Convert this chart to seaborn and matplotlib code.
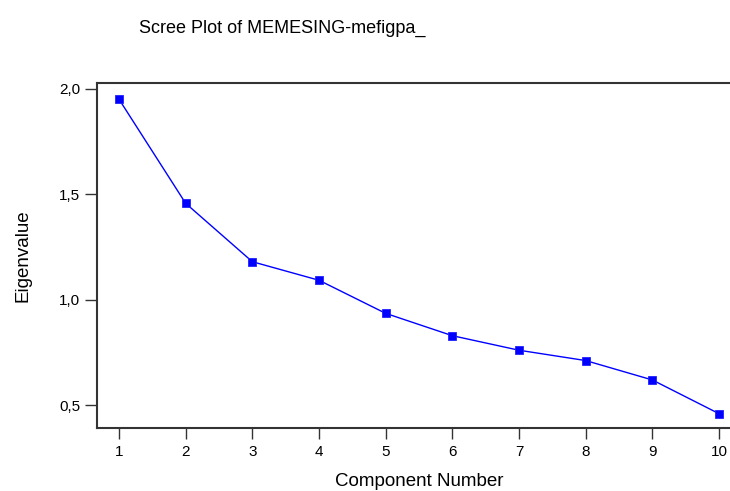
import matplotlib
matplotlib.use("Agg")
import matplotlib.pyplot as plt
import seaborn as sns
import pandas as pd

# datos
componentes = [1, 2, 3, 4, 5, 6, 7, 8, 9, 10]
eigenvalues = [1.951, 1.457, 1.180, 1.092, 0.935, 0.829, 0.760, 0.711, 0.619, 0.459]
y_ticks = [0.5, 1.0, 1.5, 2.0]
y_labels = ["0,5", "1,0", "1,5", "2,0"]

df = pd.DataFrame({"Component": componentes, "Eigenvalue": eigenvalues})

sns.set_style("white")
plt.rcParams["font.family"] = ["Liberation Sans", "DejaVu Sans"]
plt.rcParams["text.color"] = "black"
plt.rcParams["axes.labelcolor"] = "black"

fig = plt.figure(figsize=(7.3, 4.91), dpi=100)
ax = fig.add_axes([97 / 730, 1 - 428 / 491, 644 / 730, 345 / 491])

sns.lineplot(data=df, x="Component", y="Eigenvalue", ax=ax, color="#0000ff",
             linewidth=1.0, marker="s", markersize=5.5, markeredgewidth=0.6,
             markeredgecolor="#2020ff")

ax.set_xlim(0.67, 10.33)
ax.set_ylim(0.391, 2.028)
ax.set_xticks(componentes)
ax.set_xticklabels([str(c) for c in componentes], fontsize=11)
ax.set_yticks(y_ticks)
ax.set_yticklabels(y_labels, fontsize=11)
ax.tick_params(axis="x", bottom=True, direction="out", length=8, width=1.0,
               color="#333333", labelcolor="black", pad=4)
ax.tick_params(axis="y", left=True, direction="out", length=9, width=1.0,
               color="#333333", labelcolor="black", pad=3)
for s in ax.spines.values():
    s.set_linewidth(1.5)
    s.set_color("#333333")

ax.set_xlabel("Component Number", fontsize=13.5, labelpad=10)
ax.set_ylabel("Eigenvalue", fontsize=13.5, labelpad=20)
fig.text(282 / 730, 1 - 28 / 491, "Scree Plot of MEMESING-mefigpa_",
         ha="center", va="center", fontsize=13)

fig.savefig("out.png", dpi=100)
